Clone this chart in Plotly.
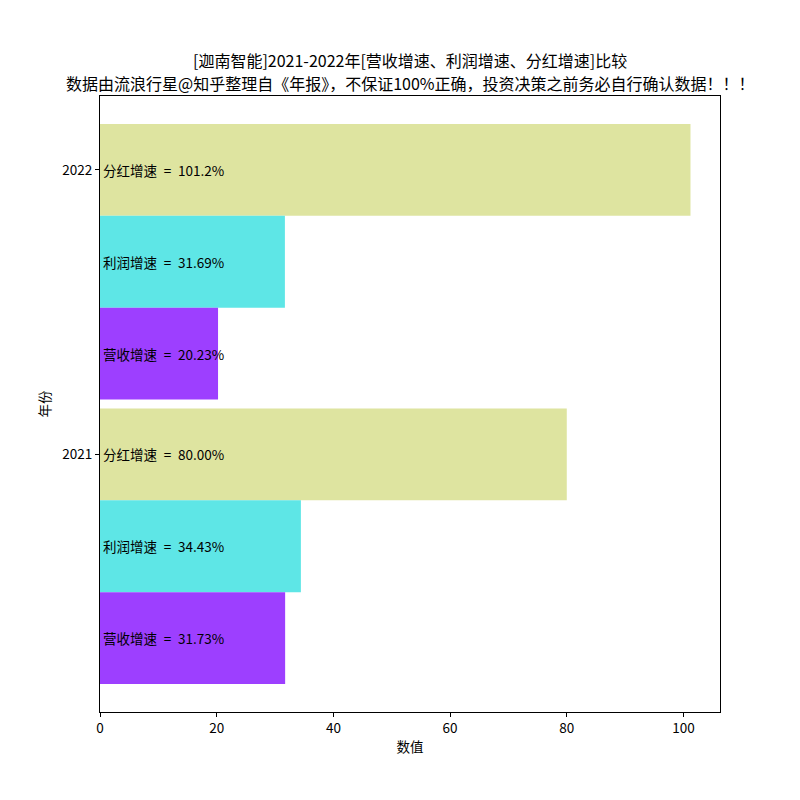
import plotly.graph_objects as go

years = [2021, 2022]
revenue_growth = [31.73, 20.23]
profit_growth = [34.43, 31.69]
dividend_growth = [80.00, 101.2]

series_names = ["分红增速", "利润增速", "营收增速"]
series_values = [dividend_growth, profit_growth, revenue_growth]
series_colors = ["#dee4a0", "#5ee6e6", "#9d3fff"]

title_lines = [
    "[迦南智能]2021-2022年[营收增速、利润增速、分红增速]比较",
    "数据由流浪行星@知乎整理自《年报》，不保证100%正确，投资决策之前务必自行确认数据！！！",
]

FONT = "Noto Sans CJK SC"
SP = "\u2002"  # 半角宽空格，SVG 中不会被折叠
bar_w = 0.323

# 页面 body 有 8px 外边距，这里的边距已扣除
M_L, M_R, M_T, M_B = 92, 88, 88, 96
plot_h = 800 - M_T - M_B

fig = go.Figure()
for i, (name, vals, color) in enumerate(zip(series_names, series_values, series_colors)):
    fig.add_trace(go.Bar(
        x=vals,
        y=years,
        orientation="h",
        name=name,
        width=bar_w,
        offset=-bar_w / 2 - i * bar_w,
        marker=dict(color=color, line=dict(width=0)),
        texttemplate=name + SP + "=" + SP + "%{x:.4r}%",
        textposition="inside",
        insidetextanchor="start",
        constraintext="none",
        textfont=dict(color="black", size=13.5, family=FONT),
    ))

x_max = max(max(v) for v in series_values) * 1.05
y_top = years[-1] + bar_w / 2
y_bot = years[0] - 2.5 * bar_w
pad = (y_top - y_bot) * 0.05

# 两行标题，按像素中心位置放置
for line, cy in zip(title_lines, [52, 75]):
    fig.add_annotation(
        text=line, showarrow=False,
        xref="paper", x=0.5, xanchor="center",
        yref="paper", y=1 + (M_T - cy) / plot_h, yanchor="middle",
        font=dict(size=16, family=FONT, color="black"),
    )

fig.update_layout(
    width=800, height=800,
    barmode="overlay",
    showlegend=False,
    plot_bgcolor="white",
    paper_bgcolor="white",
    font=dict(family=FONT, size=13.5, color="black"),
    margin=dict(l=M_L, r=M_R, t=M_T, b=M_B),
    xaxis=dict(range=[0, x_max], tickvals=[0, 20, 40, 60, 80, 100],
               showgrid=False, zeroline=False,
               showline=True, mirror=True, linecolor="black", linewidth=1,
               ticks="outside", ticklen=4, tickcolor="black",
               title=dict(text="数值", font=dict(size=13.5), standoff=6)),
    yaxis=dict(range=[y_bot - pad, y_top + pad], tickvals=years,
               ticktext=[str(y) for y in years],
               showgrid=False, zeroline=False,
               showline=True, mirror=True, linecolor="black", linewidth=1,
               ticks="outside", ticklen=4, tickcolor="black",
               title=dict(text="年份", font=dict(size=13.5), standoff=8)),
)

fig.write_html("out.html")
